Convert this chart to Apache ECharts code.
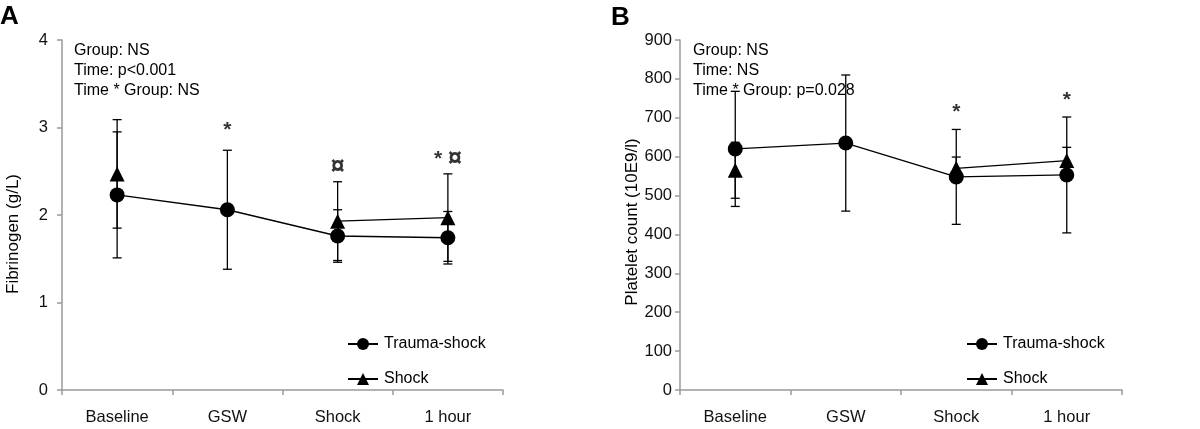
<!DOCTYPE html>
<html>
<head>
<meta charset="utf-8">
<script src="https://cdn.jsdelivr.net/npm/echarts@6/dist/echarts.min.js"></script>
<style>
html,body{margin:0;padding:0;background:#fff;}
#chart{width:1200px;height:429px;}
</style>
</head>
<body>
<div id="chart"></div>
<script>
// ---------- DATA ----------
const categories = ['Baseline', 'GSW', 'Shock', '1 hour'];
const seriesNames = ['Trauma-shock', 'Shock'];

// Panel A: Fibrinogen (g/L)
const fibTraumaMean = [2.23, 2.06, 1.76, 1.74];
const fibTraumaSD   = [0.72, 0.68, 0.30, 0.30];
const fibShockMean  = [2.47, null, 1.93, 1.97];
const fibShockSD    = [0.62, null, 0.45, 0.50];
const fibTicks = { min: 0, max: 4, interval: 1 };
const fibStats = ['Group: NS', 'Time: p<0.001', 'Time * Group: NS'];
const fibMarks = [
  { cat: 'GSW', y: 3.01, text: '*' },
  { cat: 'Shock', y: 2.59, text: '¤' },
  { cat: '1 hour', y: 2.68, text: '* ¤' }
];

// Panel B: Platelet count (10E9/l)
const pltTraumaMean = [620, 635, 548, 553];
const pltTraumaSD   = [148, 175, 122, 149];
const pltShockMean  = [565, null, 570, 590];
const pltShockSD    = [72, null, 29, 34];
const pltTicks = { min: 0, max: 900, interval: 100 };
const pltStats = ['Group: NS', 'Time: NS', 'Time * Group: p=0.028'];
const pltMarks = [
  { cat: 'Shock', y: 724, text: '*' },
  { cat: '1 hour', y: 755, text: '*' }
];

// ---------- CHART ----------
const FONT = "'Liberation Sans', Arial, Helvetica, sans-serif";
const AXIS_GREY = '#9a9a9a';

function errData(mean, sd) {
  const out = [];
  mean.forEach((m, i) => {
    if (m != null && sd[i] != null) out.push([i, m - sd[i], m + sd[i]]);
  });
  return out;
}

function errSeries(idx, mean, sd) {
  return {
    type: 'custom',
    xAxisIndex: idx, yAxisIndex: idx,
    z: 1,
    silent: true,
    data: errData(mean, sd),
    encode: { x: 0, y: [1, 2] },
    renderItem: function (params, api) {
      const x = api.value(0);
      const lo = api.coord([x, api.value(1)]);
      const hi = api.coord([x, api.value(2)]);
      const cw = 4.5;
      const st = { stroke: '#000', lineWidth: 1.3 };
      return {
        type: 'group',
        children: [
          { type: 'line', shape: { x1: hi[0], y1: hi[1], x2: lo[0], y2: lo[1] }, style: st },
          { type: 'line', shape: { x1: hi[0] - cw, y1: hi[1], x2: hi[0] + cw, y2: hi[1] }, style: st },
          { type: 'line', shape: { x1: lo[0] - cw, y1: lo[1], x2: lo[0] + cw, y2: lo[1] }, style: st }
        ]
      };
    }
  };
}

function lineSeries(idx, name, data, symbol, size) {
  return {
    type: 'line', name: name,
    xAxisIndex: idx, yAxisIndex: idx,
    data: data,
    connectNulls: false,
    symbol: symbol, symbolSize: size,
    showAllSymbol: true,
    z: 3,
    lineStyle: { color: '#000', width: 1.3 },
    itemStyle: { color: '#000', borderWidth: 0 },
    emphasis: { disabled: true },
    animation: false
  };
}

function markSeries(idx, marks) {
  return {
    type: 'scatter',
    xAxisIndex: idx, yAxisIndex: idx,
    symbolSize: 0,
    silent: true,
    z: 4,
    data: marks.map(m => ({
      value: [m.cat, m.y],
      label: { formatter: m.text.replace('¤', '{c|¤}') }
    })),
    label: {
      show: true, position: 'inside',
      fontFamily: FONT, fontSize: 21, fontWeight: 'bold', color: '#000',
      offset: [0, 4],
      rich: { c: { fontFamily: FONT, fontSize: 25, fontWeight: 'bold', color: '#000', padding: [0, 0, 0, 0] } }
    }
  };
}

function xAxisCfg(idx) {
  return {
    type: 'category', gridIndex: idx, data: categories,
    boundaryGap: true,
    axisLine: { show: true, lineStyle: { color: AXIS_GREY, width: 1.5 } },
    axisTick: { show: true, alignWithLabel: false, length: 5, lineStyle: { color: AXIS_GREY, width: 1.5 } },
    axisLabel: { color: '#111', fontFamily: FONT, fontSize: 16.5, margin: 19 },
    splitLine: { show: false }
  };
}

function yAxisCfg(idx, t, margin) {
  return {
    type: 'value', gridIndex: idx,
    min: t.min, max: t.max, interval: t.interval,
    axisLine: { show: true, lineStyle: { color: AXIS_GREY, width: 1.5 } },
    axisTick: { show: true, inside: false, length: 5, lineStyle: { color: AXIS_GREY, width: 1.5 } },
    axisLabel: { color: '#111', fontFamily: FONT, fontSize: 16.5, margin: margin },
    splitLine: { show: false }
  };
}

function legendCfg(left) {
  return {
    data: seriesNames,
    orient: 'vertical',
    left: left, top: 336,
    padding: 0,
    itemWidth: 30, itemHeight: 15,
    itemGap: 19,
    selectedMode: false,
    textStyle: { fontFamily: FONT, fontSize: 16, color: '#000', padding: [0, 0, 0, 1] }
  };
}

function statsText(x, lines) {
  return {
    type: 'text', left: x, top: 41,
    style: { text: lines.join('\n'), font: '16px ' + FONT, fill: '#000', lineHeight: 20 }
  };
}

const chart = echarts.init(document.getElementById('chart'), null, { renderer: 'canvas' });
chart.setOption({
  animation: false,
  backgroundColor: '#fff',
  grid: [
    { left: 62, right: 697, top: 40, bottom: 39 },
    { left: 680, right: 78, top: 40, bottom: 39 }
  ],
  xAxis: [xAxisCfg(0), xAxisCfg(1)],
  yAxis: [yAxisCfg(0, fibTicks, 14), yAxisCfg(1, pltTicks, 8)],
  legend: [legendCfg(347), legendCfg(966)],
  series: [
    errSeries(0, fibTraumaMean, fibTraumaSD),
    errSeries(0, fibShockMean, fibShockSD),
    lineSeries(0, seriesNames[1], fibShockMean, 'triangle', 15),
    lineSeries(0, seriesNames[0], fibTraumaMean, 'circle', 15),
    markSeries(0, fibMarks),
    errSeries(1, pltTraumaMean, pltTraumaSD),
    errSeries(1, pltShockMean, pltShockSD),
    lineSeries(1, seriesNames[1], pltShockMean, 'triangle', 15),
    lineSeries(1, seriesNames[0], pltTraumaMean, 'circle', 15),
    markSeries(1, pltMarks)
  ],
  graphic: [
    { type: 'text', left: 0, top: 4, style: { text: 'A', font: 'bold 26px ' + FONT, fill: '#000' } },
    { type: 'text', left: 611, top: 5, style: { text: 'B', font: 'bold 26px ' + FONT, fill: '#000' } },
    statsText(74, fibStats),
    statsText(693, pltStats),
    { type: 'text', x: 13, y: 234, rotation: Math.PI / 2,
      style: { text: 'Fibrinogen (g/L)', font: '17px ' + FONT, fill: '#000', align: 'center', verticalAlign: 'middle' } },
    { type: 'text', x: 632, y: 222, rotation: Math.PI / 2,
      style: { text: 'Platelet count (10E9/l)', font: '17px ' + FONT, fill: '#000', align: 'center', verticalAlign: 'middle' } }
  ]
});
</script>
</body>
</html>
